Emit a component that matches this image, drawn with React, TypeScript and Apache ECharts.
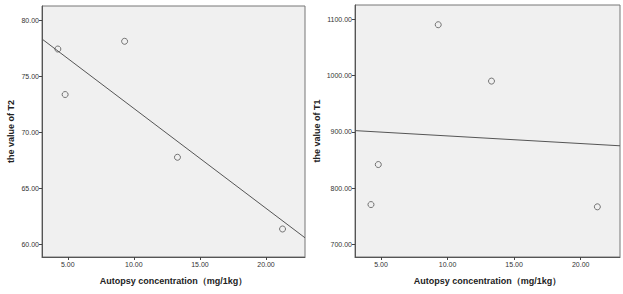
import React, { useEffect, useRef } from "react";
import * as echarts from "echarts";

const concentration = [4.25, 4.8, 9.3, 13.3, 21.25];
const t2Values = [77.46, 73.4, 78.15, 67.8, 61.4];
const t1Values = [771, 842, 1090, 990, 767];
const xTicks = [5, 10, 15, 20];
const t2Ticks = [60, 65, 70, 75, 80];
const t1Ticks = [700, 800, 900, 1000, 1100];
const xRange = [3.05, 22.95];
const t2Range = [58.9, 81.3];
const t1Range = [678, 1125];

function fitLine(xs: number[], ys: number[], x0: number, x1: number) {
  const n = xs.length;
  const mx = xs.reduce((a, b) => a + b, 0) / n;
  const my = ys.reduce((a, b) => a + b, 0) / n;
  let sxy = 0;
  let sxx = 0;
  for (let i = 0; i < n; i++) {
    sxy += (xs[i] - mx) * (ys[i] - my);
    sxx += (xs[i] - mx) * (xs[i] - mx);
  }
  const b = sxy / sxx;
  const a = my - b * mx;
  return [
    [x0, a + b * x0],
    [x1, a + b * x1],
  ];
}

const fontFamily = "Arial, 'Liberation Sans', sans-serif";

function xAxis(gridIndex: number) {
  return {
    type: "value",
    gridIndex,
    min: xRange[0],
    max: xRange[1],
    name: "Autopsy concentration（mg/1kg）",
    nameLocation: "middle",
    nameGap: 19,
    nameTextStyle: { fontFamily, fontWeight: "bold", fontSize: 9, color: "#222" },
    axisLine: { show: true, lineStyle: { color: "#555", width: 1 } },
    axisTick: { show: true, length: 3, customValues: xTicks, lineStyle: { color: "#444" } },
    axisLabel: {
      customValues: xTicks,
      formatter: (v: number) => v.toFixed(2),
      fontFamily,
      fontSize: 7,
      color: "#333",
      margin: 4,
    },
    splitLine: { show: false },
  };
}

function yAxis(gridIndex: number, name: string, range: number[], ticks: number[], gap: number) {
  return {
    type: "value",
    gridIndex,
    min: range[0],
    max: range[1],
    name,
    nameLocation: "middle",
    nameRotate: 90,
    nameGap: gap,
    nameTextStyle: { fontFamily, fontWeight: "bold", fontSize: 9, color: "#222" },
    axisLine: { show: true, lineStyle: { color: "#555", width: 1 } },
    axisTick: { show: true, length: 3, customValues: ticks, lineStyle: { color: "#444" } },
    axisLabel: {
      customValues: ticks,
      formatter: (v: number) => v.toFixed(2),
      fontFamily,
      fontSize: 7,
      color: "#333",
      margin: 3,
    },
    splitLine: { show: false },
  };
}

export default function App() {
  const ref = useRef<HTMLDivElement>(null);
  useEffect(() => {
    if (!ref.current) return;
    const chart = echarts.init(ref.current, undefined, { renderer: "svg" });
    const markerStyle = {
      color: "#f0f0f0",
      borderColor: "#555",
      borderWidth: 1,
    };
    chart.setOption({
      animation: false,
      backgroundColor: "#ffffff",
      grid: [
        {
          left: 42,
          top: 6,
          width: 263,
          height: 251,
          show: true,
          backgroundColor: "#f0f0f0",
          borderColor: "#777",
          borderWidth: 1,
        },
        {
          left: 355,
          top: 5,
          width: 265,
          height: 252,
          show: true,
          backgroundColor: "#f0f0f0",
          borderColor: "#777",
          borderWidth: 1,
        },
      ],
      xAxis: [xAxis(0), xAxis(1)],
      yAxis: [
        yAxis(0, "the value of T2", t2Range, t2Ticks, 27),
        yAxis(1, "the value of T1", t1Range, t1Ticks, 34),
      ],
      series: [
        {
          type: "line",
          xAxisIndex: 0,
          yAxisIndex: 0,
          data: fitLine(concentration, t2Values, xRange[0], xRange[1]),
          showSymbol: false,
          lineStyle: { color: "#555", width: 1 },
          silent: true,
        },
        {
          type: "scatter",
          xAxisIndex: 0,
          yAxisIndex: 0,
          data: concentration.map((x, i) => [x, t2Values[i]]),
          symbol: "circle",
          symbolSize: 6,
          itemStyle: markerStyle,
        },
        {
          type: "line",
          xAxisIndex: 1,
          yAxisIndex: 1,
          data: fitLine(concentration, t1Values, xRange[0], xRange[1]),
          showSymbol: false,
          lineStyle: { color: "#555", width: 1 },
          silent: true,
        },
        {
          type: "scatter",
          xAxisIndex: 1,
          yAxisIndex: 1,
          data: concentration.map((x, i) => [x, t1Values[i]]),
          symbol: "circle",
          symbolSize: 6,
          itemStyle: markerStyle,
        },
      ],
    });
    return () => chart.dispose();
  }, []);
  return (
    <div
      ref={ref}
      style={{ position: "absolute", left: 0, top: 0, width: 623, height: 294 }}
    />
  );
}
